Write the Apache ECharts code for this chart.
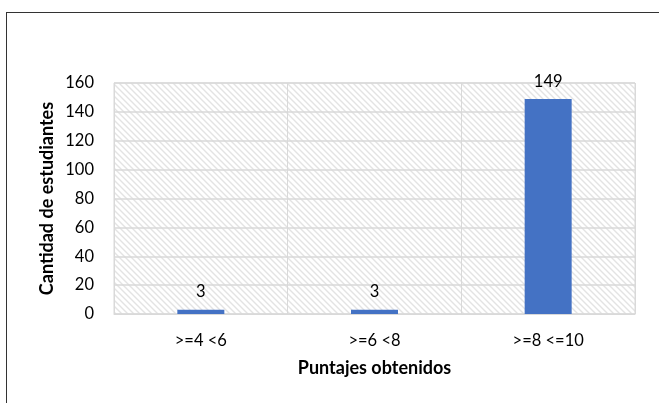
<!DOCTYPE html>
<html>
<head>
<meta charset="utf-8">
<script src="https://cdn.jsdelivr.net/npm/echarts@6/dist/echarts.min.js"></script>
<style>
  html, body { margin: 0; padding: 0; background: #fff; }
  #frame { position: absolute; left: 6px; top: 12px; width: 653px; height: 391px;
           border-top: 1px solid #333; border-left: 1px solid #333; box-sizing: border-box; }
  #chart { position: absolute; left: 0; top: 0; width: 659px; height: 403px; }
</style>
</head>
<body>
<div id="frame"></div>
<div id="chart"></div>
<script>
// Score ranges and number of students in each
const categories = ['>=4 <6', '>=6 <8', '>=8 <=10'];
const students = [3, 3, 149];
const yTicks = [0, 20, 40, 60, 80, 100, 120, 140, 160];

// Light diagonal hatch used as the plot-area fill
function hatchPattern() {
  const size = 6;
  const c = document.createElement('canvas');
  c.width = size; c.height = size;
  const g = c.getContext('2d');
  g.fillStyle = '#ffffff';
  g.fillRect(0, 0, size, size);
  g.strokeStyle = '#e3e3e3';
  g.lineWidth = 1.4;
  g.beginPath();
  g.moveTo(-1, -1); g.lineTo(size + 1, size + 1);
  g.moveTo(-1, size - 1); g.lineTo(1, size + 1);
  g.moveTo(size - 1, -1); g.lineTo(size + 1, 1);
  g.stroke();
  return c;
}

const fontFamily = 'Lato, "Open Sans", sans-serif';
const chart = echarts.init(document.getElementById('chart'), null, { renderer: 'canvas' });
chart.setOption({
  animation: false,
  backgroundColor: 'transparent',
  grid: {
    left: 114, right: 24, top: 83, bottom: 89,
    show: true,
    backgroundColor: { image: hatchPattern(), repeat: 'repeat' },
    borderColor: '#d9d9d9', borderWidth: 1
  },
  xAxis: {
    type: 'category',
    data: categories,
    name: 'Puntajes obtenidos',
    nameLocation: 'middle',
    nameGap: 45,
    nameMoveOverlap: false,
    nameTextStyle: { fontFamily, fontSize: 18, fontWeight: 'bold', color: '#000' },
    axisLine: { show: true, lineStyle: { color: '#d9d9d9' } },
    axisTick: { show: false },
    axisLabel: { fontFamily, fontSize: 16.5, color: '#000', margin: 18 },
    splitLine: { show: true, interval: 0, lineStyle: { color: '#d9d9d9', width: 1 } }
  },
  yAxis: {
    type: 'value',
    min: yTicks[0],
    max: yTicks[yTicks.length - 1],
    interval: 20,
    name: 'Cantidad de estudiantes',
    nameLocation: 'middle',
    nameGap: 58,
    nameMoveOverlap: false,
    nameTextStyle: { fontFamily, fontSize: 18, fontWeight: 'bold', color: '#000' },
    axisLine: { show: false },
    axisTick: { show: false },
    axisLabel: { fontFamily, fontSize: 16.5, color: '#000', margin: 20 },
    splitLine: { show: true, lineStyle: { color: '#d9d9d9', width: 1.5 } }
  },
  series: [{
    type: 'bar',
    data: students,
    barWidth: 47,
    itemStyle: { color: '#4472C4' },
    label: {
      show: true,
      position: 'top',
      distance: 9,
      fontFamily, fontSize: 16.5, color: '#000'
    }
  }]
});
</script>
</body>
</html>
